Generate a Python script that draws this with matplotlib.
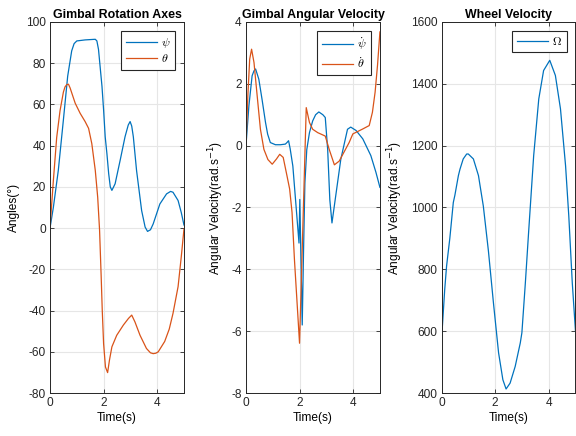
import matplotlib.pyplot as plt

plt.rcParams["font.family"] = ["Liberation Sans", "DejaVu Sans"]
plt.rcParams["mathtext.fontset"] = "cm"
plt.rcParams["axes.unicode_minus"] = False

# gimbal rotation angles (deg)
t_psi = [0, 0.125, 0.31, 0.5, 0.66, 0.81, 0.9, 1.0, 1.31, 1.69, 1.75, 1.81, 1.88, 1.94, 2.0,
         2.06, 2.125, 2.19, 2.25, 2.31, 2.43, 2.62, 2.8, 2.92, 2.99, 3.05, 3.11, 3.23, 3.42,
         3.55, 3.64, 3.75, 3.85, 4.1, 4.35, 4.5, 4.59, 4.78, 4.9, 5.0]
psi = [0, 10, 28, 52.5, 73.7, 86, 89.5, 90.8, 91.3, 91.6, 90.8, 86.7, 77, 68.8, 57.4,
       44.3, 36, 26.4, 20, 18.3, 21.5, 33, 44.3, 50, 51.7, 49.5, 44.3, 28, 8.5,
       0.5, -1.6, -0.8, 2, 11.7, 16.6, 17.8, 17.4, 13.4, 7.5, 1.5]

t_theta = [0, 0.125, 0.25, 0.375, 0.5, 0.56, 0.625, 0.69, 0.75, 0.94, 1.125, 1.31, 1.44, 1.56,
           1.69, 1.78, 1.85, 1.91, 1.95, 2.0, 2.07, 2.15, 2.22, 2.31, 2.49, 2.74, 2.93, 3.05,
           3.17, 3.36, 3.6, 3.75, 3.85, 3.95, 4.04, 4.28, 4.45, 4.59, 4.78, 4.9, 5.0]
theta = [0, 23, 44, 57, 66, 68.5, 69.6, 69.8, 68, 60.6, 55.7, 51.7, 48.4, 41,
         28, 15, -1, -23.5, -39.8, -56, -67.4, -70.1, -64, -57.6, -52, -47, -43.8, -42.2,
         -45.5, -52, -58.4, -60.5, -60.9, -60.7, -60, -55, -49, -41.4, -28.4, -13.8, -0.5]

# gimbal angular velocity (rad/s)
t_dpsi = [0, 0.11, 0.23, 0.3, 0.36, 0.48, 0.6, 0.73, 0.81, 0.91, 1.1, 1.29, 1.47, 1.53, 1.59,
          1.65, 1.75, 1.87, 1.98, 2.01, 2.1, 2.15, 2.2, 2.27, 2.37, 2.49, 2.6, 2.72, 2.87,
          2.96, 3.05, 3.13, 3.21, 3.33, 3.54, 3.79, 3.91, 4.11, 4.36, 4.66, 4.85, 5.0]
dpsi = [0, 1.29, 2.26, 2.42, 2.48, 2.15, 1.5, 0.75, 0.37, 0.1, 0.03, 0.03, 0.05, 0.1, 0.16,
        -0.1, -0.66, -1.96, -3.15, -1.74, -5.8, -3.37, -1.2, -0.13, 0.42, 0.8, 1.0, 1.09, 1.0,
        0.91, -0.13, -1.75, -2.5, -1.75, -0.44, 0.53, 0.6, 0.49, 0.22, -0.32, -0.86, -1.35]

t_dtheta = [0, 0.07, 0.14, 0.21, 0.3, 0.42, 0.54, 0.67, 0.82, 0.98, 1.14, 1.26, 1.39, 1.53,
            1.63, 1.72, 1.81, 2.0, 2.25, 2.37, 2.49, 2.68, 2.96, 3.11, 3.3, 3.48, 3.85, 3.99,
            4.36, 4.6, 4.72, 4.82, 4.91, 5.0]
dtheta = [0, 1.6, 2.8, 3.12, 2.69, 1.6, 0.53, -0.12, -0.45, -0.6, -0.43, -0.28, -0.38, -0.97,
          -1.4, -2.16, -3.69, -6.39, 1.23, 0.75, 0.53, 0.42, 0.31, -0.13, -0.62, -0.5, 0.1, 0.38,
          0.54, 0.65, 1.08, 1.73, 2.6, 3.68]

# wheel velocity (rad/s)
t_omega = [0, 0.12, 0.19, 0.31, 0.44, 0.5, 0.63, 0.69, 0.81, 0.94, 1.0, 1.19, 1.38, 1.44,
           1.56, 1.75, 1.94, 2.13, 2.29, 2.41, 2.56, 2.75, 2.94, 3.0, 3.13, 3.25, 3.44,
           3.63, 3.81, 4.04, 4.25, 4.44, 4.63, 4.75, 4.88, 5.0]
omega = [570, 735, 811, 900, 1016, 1040, 1103, 1124, 1157, 1173, 1173, 1157, 1103, 1070,
         1005, 860, 690, 530, 443, 413, 432, 486, 562, 595, 757, 919, 1168,
         1351, 1443, 1476, 1427, 1319, 1135, 973, 757, 600]

blue = "#0072BD"
orange = "#D95319"
fs = 8.6

fig = plt.figure(figsize=(5.76, 4.36), dpi=100)
w, h, b = 0.2326, 0.851, 0.0986
ax1 = fig.add_axes([0.0868, b, w, h])
ax2 = fig.add_axes([0.427, b, w, h])
ax3 = fig.add_axes([0.7665, b, w, h])

ax1.plot(t_psi, psi, color=blue, lw=0.9, label=r"$\psi$")
ax1.plot(t_theta, theta, color=orange, lw=0.9, label=r"$\theta$")
ax1.set_ylim(-80, 100)
ax1.set_yticks(range(-80, 101, 20))
ax1.set_title("Gimbal Rotation Axes", fontsize=8.9, fontweight="bold", pad=3)
ax1.set_ylabel("Angles(°)", fontsize=fs)

ax2.plot(t_dpsi, dpsi, color=blue, lw=0.9, label=r"$\dot{\psi}$")
ax2.plot(t_dtheta, dtheta, color=orange, lw=0.9, label=r"$\dot{\theta}$")
ax2.set_ylim(-8, 4)
ax2.set_yticks(range(-8, 5, 2))
ax2.set_title("Gimbal Angular Velocity", fontsize=8.9, fontweight="bold", pad=3)
ax2.set_ylabel(r"Angular Velocity(rad.s$^{-1}$)", fontsize=fs, math_fontfamily="dejavusans")

ax3.plot(t_omega, omega, color=blue, lw=0.9, label=r"$\Omega$")
ax3.set_ylim(400, 1600)
ax3.set_yticks(range(400, 1601, 200))
ax3.set_title("Wheel Velocity", fontsize=8.9, fontweight="bold", pad=3)
ax3.set_ylabel(r"Angular Velocity(rad.s$^{-1}$)", fontsize=fs, math_fontfamily="dejavusans")

for ax in (ax1, ax2, ax3):
    ax.set_xlim(0, 5)
    ax.set_xticks([0, 2, 4])
    ax.set_xlabel("Time(s)", fontsize=fs, labelpad=2)
    ax.grid(True, color="#e6e6e6", lw=0.8)
    ax.set_axisbelow(True)
    ax.tick_params(direction="in", top=True, right=True, length=3, width=0.6,
                   labelsize=fs, colors="#262626", pad=3)
    for s in ax.spines.values():
        s.set_color("#262626")
        s.set_linewidth(0.7)
    leg = ax.legend(loc="upper right", fontsize=fs, fancybox=False, framealpha=1,
                    edgecolor="#262626", borderaxespad=0.75, handlelength=2.6,
                    handletextpad=0.3, borderpad=0.4, labelspacing=0.3)
    leg.get_frame().set_linewidth(0.8)

fig.savefig("out.png", dpi=100)
